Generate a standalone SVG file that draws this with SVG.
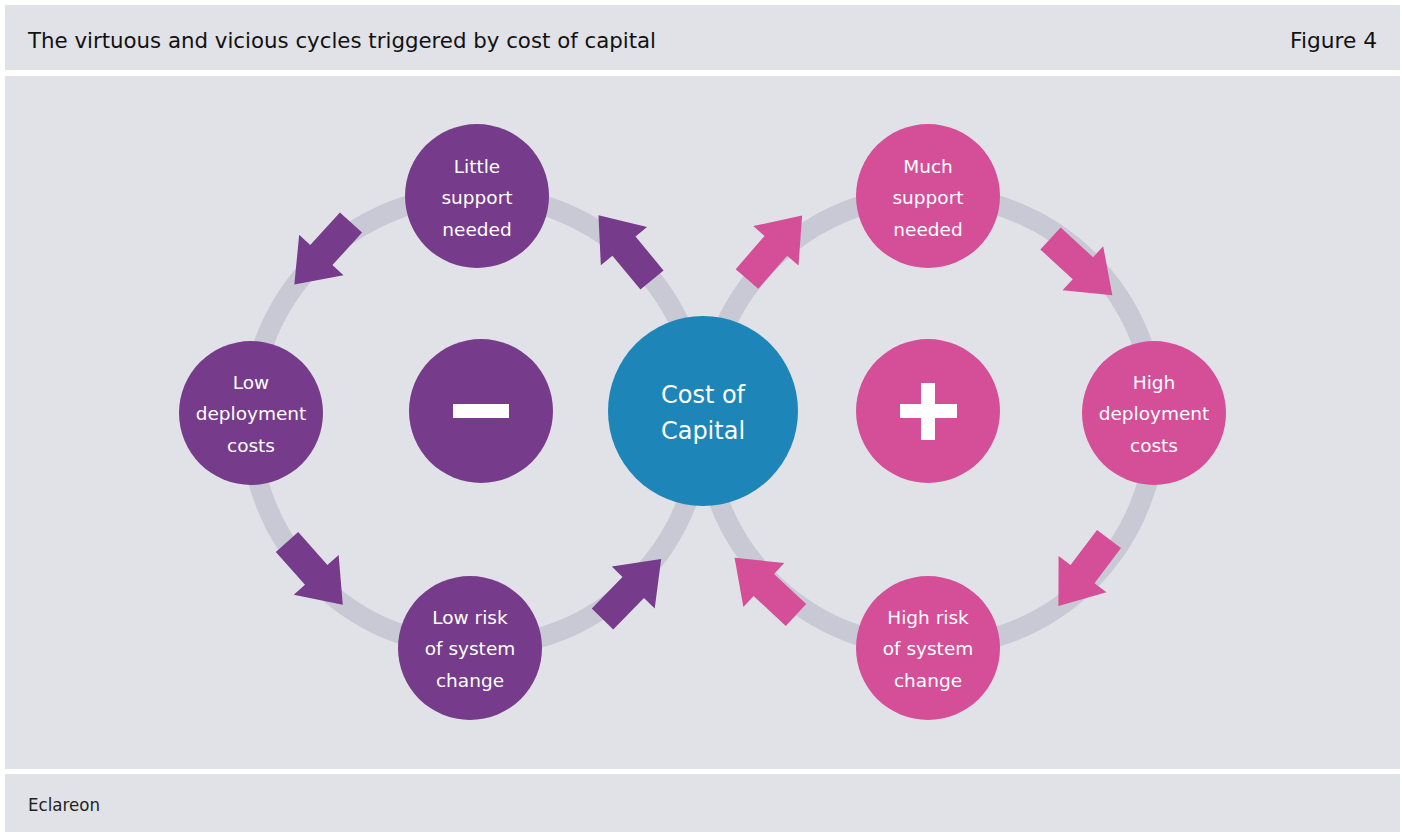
<svg xmlns="http://www.w3.org/2000/svg" xmlns:xlink="http://www.w3.org/1999/xlink" width="1402" height="832" viewBox="0 0 1402 832">
  <style>
    .panel { fill: #e1e2e7; }
    .ring { fill: none; stroke: #c8c9d5; stroke-width: 20; }
    .purple { fill: #763b8a; }
    .pink { fill: #d44f97; }
    .blue { fill: #1d85b8; }
    .lbl { font-family: "DejaVu Sans", "Liberation Sans", sans-serif; font-size: 18.5px; fill: #ffffff; text-anchor: middle; }
    .big { font-family: "DejaVu Sans", "Liberation Sans", sans-serif; font-size: 24px; fill: #ffffff; text-anchor: middle; }
    .head { font-family: "DejaVu Sans", "Liberation Sans", sans-serif; font-size: 22px; fill: #111111; }
    .foot { font-family: "DejaVu Sans", "Liberation Sans", sans-serif; font-size: 17px; fill: #222222; }
  </style>
  <defs>
    <!-- block arrow pointing along +x, origin at the tail centre -->
    <path id="arrow" d="M0,-15 H44 V-30 L84,0 L44,30 V15 H0 Z"/>
  </defs>

  <rect width="1402" height="832" fill="#ffffff"/>

  <!-- panels -->
  <rect class="panel" x="5" y="5" width="1395" height="65"/>
  <rect class="panel" x="5" y="76" width="1395" height="693"/>
  <rect class="panel" x="5" y="774" width="1395" height="58"/>

  <text class="head" x="28" y="48" textLength="628" lengthAdjust="spacingAndGlyphs">The virtuous and vicious cycles triggered by cost of capital</text>
  <text class="head" x="1377" y="48" text-anchor="end" textLength="87" lengthAdjust="spacingAndGlyphs">Figure 4</text>
  <text class="foot" x="28" y="811" textLength="72" lengthAdjust="spacingAndGlyphs">Eclareon</text>

  <!-- connectors: the two loops and their arrows -->
  <g id="connectors">
    <circle class="ring" cx="476" cy="421" r="226"/>
    <circle class="ring" cx="930" cy="421" r="226"/>
    <use xlink:href="#arrow" class="purple" transform="translate(351,222.5) rotate(132.4)"/>
    <use xlink:href="#arrow" class="purple" transform="translate(652,280) rotate(230.4)"/>
    <use xlink:href="#arrow" class="purple" transform="translate(287,542) rotate(48.4)"/>
    <use xlink:href="#arrow" class="purple" transform="translate(602.5,619) rotate(-45.7)"/>
    <use xlink:href="#arrow" class="pink" transform="translate(747,279) rotate(-49)"/>
    <use xlink:href="#arrow" class="pink" transform="translate(1050.5,238.5) rotate(42.6)"/>
    <use xlink:href="#arrow" class="pink" transform="translate(1109,539) rotate(127)"/>
    <use xlink:href="#arrow" class="pink" transform="translate(796,615) rotate(223)"/>
  </g>

  <!-- left loop -->
  <g id="little-support">
    <circle class="purple" cx="477" cy="196" r="72"/>
    <text class="lbl" x="477" y="173">Little</text>
    <text class="lbl" x="477" y="204">support</text>
    <text class="lbl" x="477" y="236">needed</text>
  </g>
  <g id="low-deployment">
    <circle class="purple" cx="251" cy="413" r="72"/>
    <text class="lbl" x="251" y="389">Low</text>
    <text class="lbl" x="251" y="420">deployment</text>
    <text class="lbl" x="251" y="452">costs</text>
  </g>
  <g id="low-risk">
    <circle class="purple" cx="470" cy="648" r="72"/>
    <text class="lbl" x="470" y="624">Low risk</text>
    <text class="lbl" x="470" y="655">of system</text>
    <text class="lbl" x="470" y="687">change</text>
  </g>
  <g id="minus">
    <circle class="purple" cx="481" cy="411" r="72"/>
    <rect x="453" y="404" width="56" height="14" fill="#ffffff"/>
  </g>

  <!-- centre -->
  <g id="cost-of-capital">
    <circle class="blue" cx="703" cy="411" r="95"/>
    <text class="big" x="703" y="403">Cost of</text>
    <text class="big" x="703" y="439">Capital</text>
  </g>

  <!-- right loop -->
  <g id="much-support">
    <circle class="pink" cx="928" cy="196" r="72"/>
    <text class="lbl" x="928" y="173">Much</text>
    <text class="lbl" x="928" y="204">support</text>
    <text class="lbl" x="928" y="236">needed</text>
  </g>
  <g id="high-deployment">
    <circle class="pink" cx="1154" cy="413" r="72"/>
    <text class="lbl" x="1154" y="389">High</text>
    <text class="lbl" x="1154" y="420">deployment</text>
    <text class="lbl" x="1154" y="452">costs</text>
  </g>
  <g id="high-risk">
    <circle class="pink" cx="928" cy="648" r="72"/>
    <text class="lbl" x="928" y="624">High risk</text>
    <text class="lbl" x="928" y="655">of system</text>
    <text class="lbl" x="928" y="687">change</text>
  </g>
  <g id="plus">
    <circle class="pink" cx="928" cy="411" r="72"/>
    <rect x="900" y="404" width="57" height="14" fill="#ffffff"/>
    <rect x="921" y="383" width="14" height="57" fill="#ffffff"/>
  </g>
</svg>
